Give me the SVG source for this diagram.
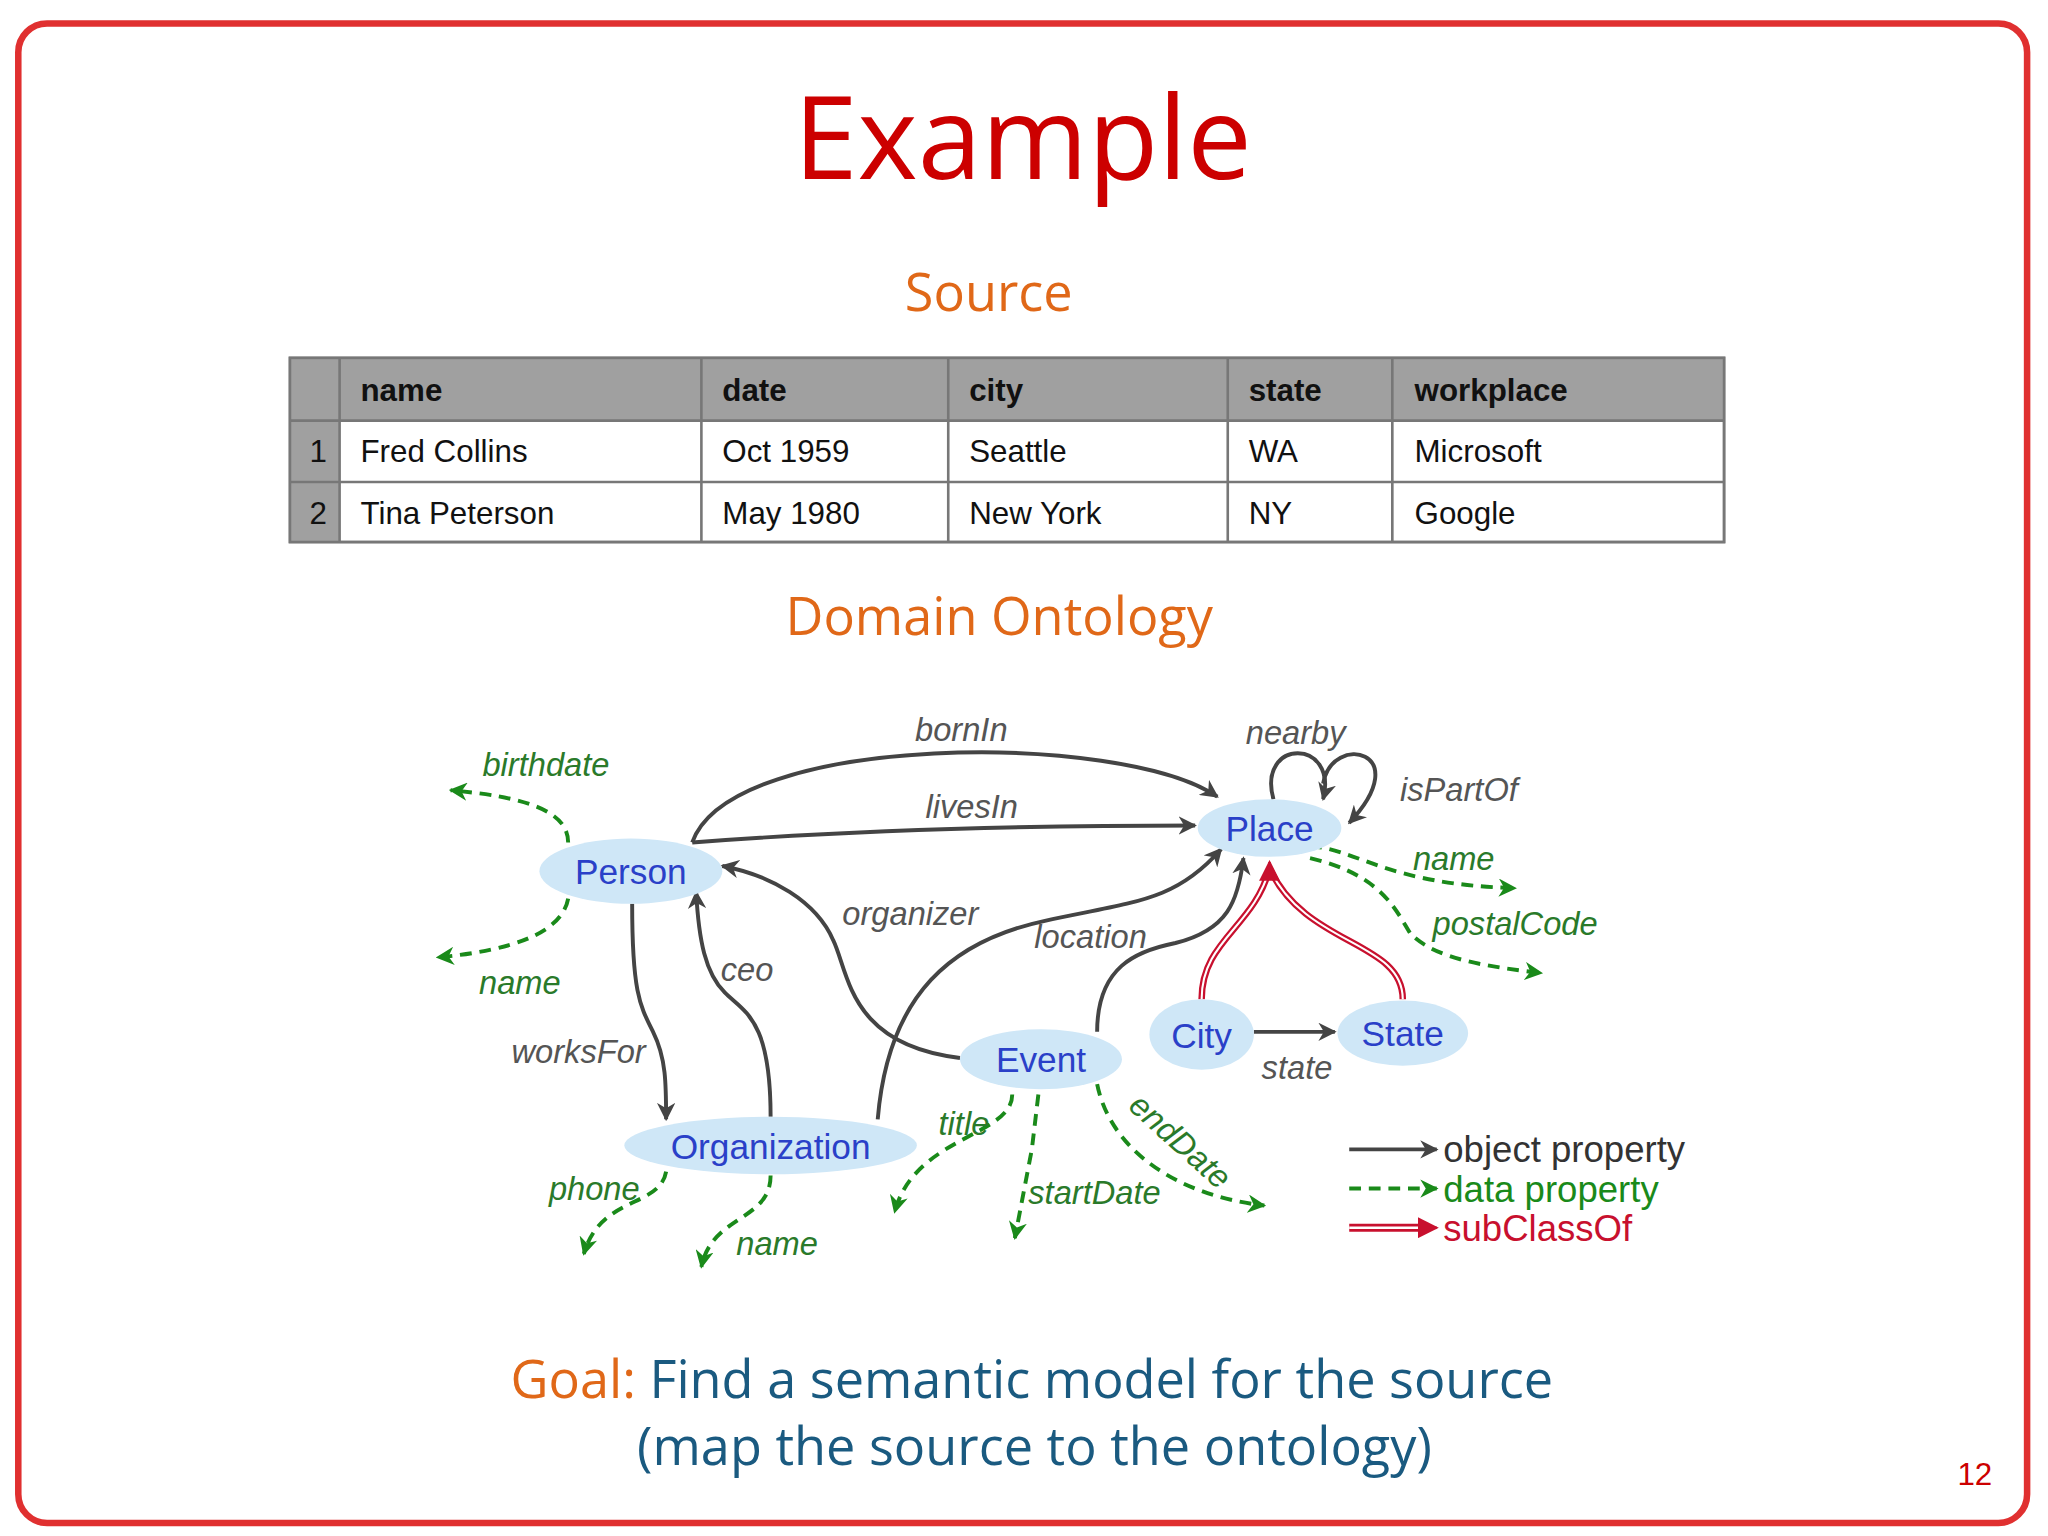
<svg xmlns="http://www.w3.org/2000/svg" width="2048" height="1536" viewBox="0 0 2048 1536">
<defs>
<style>
.hd{font-family:"Liberation Sans",Arial,sans-serif;font-size:24px;font-weight:bold;fill:#111}
.td{font-family:"Liberation Sans",Arial,sans-serif;font-size:24px;fill:#111}
.ob{fill:none;stroke:#444;stroke-width:3}
.dp{fill:none;stroke:#1a8a1a;stroke-width:3;stroke-dasharray:9,6}
.lb{font-family:"Liberation Sans",Arial,sans-serif;font-size:25px;font-style:italic;fill:#555;text-anchor:middle}
.gl{font-family:"Liberation Sans",Arial,sans-serif;font-size:25px;font-style:italic;fill:#2a7a2a;text-anchor:middle}
.nd{fill:#cfe7f7}
.nt{font-family:"Liberation Sans",Arial,sans-serif;font-size:27px;fill:#2a40c8;text-anchor:middle}
.sec{font-family:"Open Sans","Liberation Sans",sans-serif;font-size:40px;fill:#e06818;text-anchor:middle}
</style>
<marker id="ab" viewBox="0 0 10 10" refX="9" refY="5" markerWidth="14" markerHeight="14" markerUnits="userSpaceOnUse" orient="auto"><path d="M0,0 L10,5 L0,10 L3,5 z" fill="#444"/></marker>
<marker id="ag" viewBox="0 0 10 10" refX="9" refY="5" markerWidth="14" markerHeight="14" markerUnits="userSpaceOnUse" orient="auto"><path d="M0,0 L10,5 L0,10 L3,5 z" fill="#1a8a1a"/></marker>
<marker id="ar" viewBox="0 0 10 10" refX="9" refY="5" markerWidth="16" markerHeight="16" markerUnits="userSpaceOnUse" orient="auto"><path d="M0,0 L10,5 L0,10 z" fill="#c8102e"/></marker>
</defs>
<rect width="2048" height="1536" fill="#fff"/>
<g transform="scale(1.30612)">
<rect x="14" y="18" width="1538" height="1148" rx="22" fill="none" stroke="#e03030" stroke-width="5"/>
<text x="783" y="137" font-family="'Open Sans','Liberation Sans',sans-serif" font-size="88" fill="#cc0000" text-anchor="middle">Example</text>
<text x="757" y="238" class="sec">Source</text>
<g id="table">
<rect x="222" y="274" width="1098" height="141" fill="#fff" stroke="#888" stroke-width="2"/>
<rect x="222" y="274" width="1098" height="48" fill="#a0a0a0"/>
<rect x="222" y="274" width="38" height="141" fill="#a0a0a0"/>
<g stroke="#777" stroke-width="2">
<line x1="222" y1="322" x2="1320" y2="322"/><line x1="222" y1="369" x2="1320" y2="369"/>
<line x1="260" y1="274" x2="260" y2="415"/><line x1="537" y1="274" x2="537" y2="415"/><line x1="726" y1="274" x2="726" y2="415"/><line x1="940" y1="274" x2="940" y2="415"/><line x1="1066" y1="274" x2="1066" y2="415"/>
<rect x="222" y="274" width="1098" height="141" fill="none"/>
</g>
<text class="hd" x="276" y="307">name</text><text class="hd" x="553" y="307">date</text><text class="hd" x="742" y="307">city</text><text class="hd" x="956" y="307">state</text><text class="hd" x="1083" y="307">workplace</text>
<text class="td" x="237" y="354">1</text><text class="td" x="276" y="354">Fred Collins</text><text class="td" x="553" y="354">Oct 1959</text><text class="td" x="742" y="354">Seattle</text><text class="td" x="956" y="354">WA</text><text class="td" x="1083" y="354">Microsoft</text>
<text class="td" x="237" y="401">2</text><text class="td" x="276" y="401">Tina Peterson</text><text class="td" x="553" y="401">May 1980</text><text class="td" x="742" y="401">New York</text><text class="td" x="956" y="401">NY</text><text class="td" x="1083" y="401">Google</text>
</g>
<text x="765" y="486" class="sec">Domain Ontology</text>
<g id="connectors">
<path class="ob" d="M530,645 C560,560 860,560 932,610" marker-end="url(#ab)"/>
<path class="ob" d="M530,645 Q700,632 915,632" marker-end="url(#ab)"/>
<path class="ob" d="M975,612 C962,565 1025,565 1013,612" marker-end="url(#ab)"/>
<path class="ob" d="M1013,600 C1020,560 1085,575 1033,630" marker-end="url(#ab)"/>
<path class="ob" d="M735,810 C650,800 650,745 638,720 C625,690 590,670 553,663" marker-end="url(#ab)"/>
<path class="ob" d="M590,855 C590,780 570,775 555,760 C540,745 535,720 533,683" marker-end="url(#ab)"/>
<path class="ob" d="M484,692 C484,760 490,770 500,790 C510,810 510,830 510,857" marker-end="url(#ab)"/>
<path class="ob" d="M672,857 C680,760 730,720 800,705 C870,690 900,690 935,650" marker-end="url(#ab)"/>
<path class="ob" d="M840,790 C840,740 870,728 900,722 C940,712 948,690 952,657" marker-end="url(#ab)"/>
<path class="ob" d="M960,790 L1022,790" marker-end="url(#ab)"/>
<path d="M920,765 C920,720 960,710 972,665" fill="none" stroke="#c8102e" stroke-width="5"/>
<path d="M1074,765 C1074,720 1000,725 972,665" fill="none" stroke="#c8102e" stroke-width="5"/>
<path d="M920,765 C920,720 960,710 972,665" fill="none" stroke="#fff" stroke-width="1.6"/>
<path d="M1074,765 C1074,720 1000,725 972,665" fill="none" stroke="#fff" stroke-width="1.6"/>
<path d="M972,672 L972,660" stroke="#c8102e" stroke-width="2" marker-end="url(#ar)"/>
<path class="dp" d="M435,645 C435,620 400,610 345,605" marker-end="url(#ag)"/>
<path class="dp" d="M435,688 C430,715 390,728 335,733" marker-end="url(#ag)"/>
<path class="dp" d="M1003,648 C1040,650 1060,677 1160,680" marker-end="url(#ag)"/>
<path class="dp" d="M1003,657 C1060,670 1070,700 1080,715 C1100,735 1140,740 1180,745" marker-end="url(#ag)"/>
<path class="dp" d="M510,897 C505,925 460,915 447,960" marker-end="url(#ag)"/>
<path class="dp" d="M590,900 C590,935 545,930 537,970" marker-end="url(#ag)"/>
<path class="dp" d="M775,838 C775,870 700,870 685,928" marker-end="url(#ag)"/>
<path class="dp" d="M795,838 L790,880 L777,948" marker-end="url(#ag)"/>
<path class="dp" d="M840,830 C850,880 900,915 968,923" marker-end="url(#ag)"/>
</g>
<g id="labels">
<text class="lb" x="736" y="567">bornIn</text>
<text class="lb" x="744" y="626">livesIn</text>
<text class="lb" x="992" y="570">nearby</text>
<text class="lb" x="1117" y="613">isPartOf</text>
<text class="lb" x="697" y="708">organizer</text>
<text class="lb" x="572" y="751">ceo</text>
<text class="lb" x="443" y="814">worksFor</text>
<text class="lb" x="835" y="726">location</text>
<text class="lb" x="993" y="826">state</text>
<text class="gl" x="418" y="594">birthdate</text>
<text class="gl" x="398" y="761">name</text>
<text class="gl" x="1113" y="666">name</text>
<text class="gl" x="1160" y="716">postalCode</text>
<text class="gl" x="455" y="919">phone</text>
<text class="gl" x="595" y="961">name</text>
<text class="gl" x="738" y="869">title</text>
<text class="gl" x="838" y="922">startDate</text>
<text class="gl" transform="translate(898,880) rotate(42)">endDate</text>
</g>
<g id="person"><ellipse class="nd" cx="483" cy="667" rx="70" ry="25"/><text class="nt" x="483" y="677">Person</text></g>
<g id="place"><ellipse class="nd" cx="972" cy="634" rx="55" ry="22"/><text class="nt" x="972" y="644">Place</text></g>
<g id="event"><ellipse class="nd" cx="797" cy="811" rx="62" ry="23"/><text class="nt" x="797" y="821">Event</text></g>
<g id="organization"><ellipse class="nd" cx="590" cy="877" rx="112" ry="22"/><text class="nt" x="590" y="887">Organization</text></g>
<g id="city"><ellipse class="nd" cx="920" cy="792" rx="40" ry="27"/><text class="nt" x="920" y="802">City</text></g>
<g id="state"><ellipse class="nd" cx="1074" cy="791" rx="50" ry="25"/><text class="nt" x="1074" y="801">State</text></g>
<g id="legend" font-family="'Liberation Sans',Arial,sans-serif" font-size="28">
<path class="ob" d="M1033,880 L1100,880" marker-end="url(#ab)"/>
<path class="dp" d="M1033,910 L1100,910" marker-end="url(#ag)"/>
<path d="M1033,940 L1090,940" stroke="#c8102e" stroke-width="6" fill="none"/>
<path d="M1033,940 L1092,940" stroke="#fff" stroke-width="2" fill="none"/>
<path d="M1088,940 L1100,940" stroke="#c8102e" stroke-width="2" marker-end="url(#ar)"/>
<text x="1105" y="890" fill="#333">object property</text>
<text x="1105" y="920" fill="#1a8a1a">data property</text>
<text x="1105" y="950" fill="#c8102e">subClassOf</text>
</g>
<text x="790" y="1070" font-family="'Open Sans','Liberation Sans',sans-serif" font-size="40" text-anchor="middle"><tspan fill="#e06818">Goal: </tspan><tspan fill="#1a5a80">Find a semantic model for the source</tspan></text>
<text x="792" y="1122" font-family="'Open Sans','Liberation Sans',sans-serif" font-size="40" fill="#1a5a80" text-anchor="middle">(map the source to the ontology)</text>
<text x="1512" y="1137" font-family="'Liberation Sans',Arial,sans-serif" font-size="24" fill="#cc0000" text-anchor="middle">12</text>
</g>
</svg>
